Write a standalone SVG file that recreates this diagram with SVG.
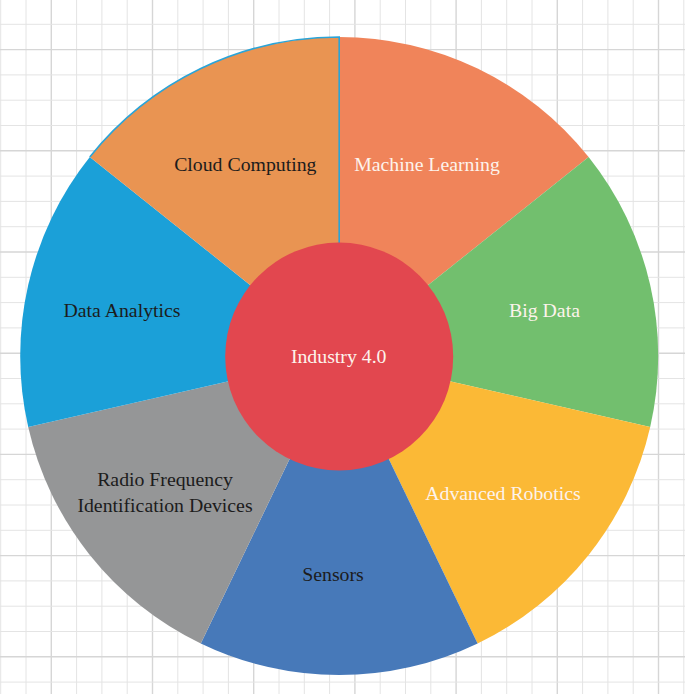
<svg xmlns="http://www.w3.org/2000/svg" width="685" height="694" viewBox="0 0 685 694">
<style>
.minor{stroke:#e4e4e4;stroke-width:1;fill:none}
.major{stroke:#d6d6d6;stroke-width:1.4;fill:none}
.lbl{font-family:"Liberation Serif","Times New Roman",serif;font-size:19.8px;text-anchor:middle}
.dark{fill:#1c1c1c}
.light{fill:#fdf3ec}
</style>
<rect width="685" height="694" fill="#ffffff"/>
<g id="grid">
<path class="minor" d="M0.7 0V694M26 0V694M76.6 0V694M101.9 0V694M127.2 0V694M177.8 0V694M203.1 0V694M228.4 0V694M279 0V694M304.3 0V694M329.6 0V694M380.2 0V694M405.5 0V694M430.8 0V694M481.4 0V694M506.7 0V694M532 0V694M582.6 0V694M607.9 0V694M633.2 0V694M683.8 0V694"/>
<path class="major" d="M51.3 0V694M152.5 0V694M253.7 0V694M354.9 0V694M456.1 0V694M557.3 0V694M658.5 0V694"/>
<path class="minor" d="M0 24.3H685M0 74.9H685M0 100.2H685M0 125.5H685M0 176.1H685M0 201.4H685M0 226.7H685M0 277.3H685M0 302.6H685M0 327.9H685M0 378.5H685M0 403.8H685M0 429.1H685M0 479.7H685M0 505H685M0 530.3H685M0 580.9H685M0 606.2H685M0 631.5H685M0 682.1H685"/>
<path class="major" d="M0 49.6H685M0 150.8H685M0 252H685M0 353.2H685M0 454.4H685M0 555.6H685M0 656.8H685"/>
</g>
<g id="machine-learning">
<path d="M339.2 356L339.2 37A319 319 0 0 1 588.6 157.11Z" fill="#f0845a"/>
<text class="lbl light" x="427" y="170.5">Machine Learning</text>
</g>
<g id="big-data">
<path d="M339.2 356L588.6 157.11A319 319 0 0 1 650.2 426.98Z" fill="#72bf6e"/>
<text class="lbl light" x="544.5" y="316.7">Big Data</text>
</g>
<g id="advanced-robotics">
<path d="M339.2 356L650.2 426.98A319 319 0 0 1 477.61 643.41Z" fill="#fbb936"/>
<text class="lbl light" x="503" y="500">Advanced Robotics</text>
</g>
<g id="sensors">
<path d="M339.2 356L477.61 643.41A319 319 0 0 1 200.79 643.41Z" fill="#4779b9"/>
<text class="lbl dark" x="333" y="580.7">Sensors</text>
</g>
<g id="rfid">
<path d="M339.2 356L200.79 643.41A319 319 0 0 1 28.2 426.98Z" fill="#959697"/>
<text class="lbl dark" x="165" y="485.7">Radio Frequency</text>
<text class="lbl dark" x="165" y="511.7">Identification Devices</text>
</g>
<g id="data-analytics">
<path d="M339.2 356L28.2 426.98A319 319 0 0 1 89.8 157.11Z" fill="#1ba0d8"/>
<text class="lbl dark" x="122" y="316.7">Data Analytics</text>
</g>
<g id="cloud-computing">
<path d="M339.2 356L89.8 157.11A319 319 0 0 1 339.2 37Z" fill="#e99452"/>
<path d="M89.8 157.11A319 319 0 0 1 339.2 37L339.2 356" fill="none" stroke="#2aa4d8" stroke-width="1.6"/>
<text class="lbl dark" x="245.3" y="170.7">Cloud Computing</text>
</g>
<g id="industry-4-0">
<circle cx="339.2" cy="356.5" r="114" fill="#e2474f"/>
<text class="lbl light" x="338.7" y="363.3">Industry 4.0</text>
</g>
</svg>
